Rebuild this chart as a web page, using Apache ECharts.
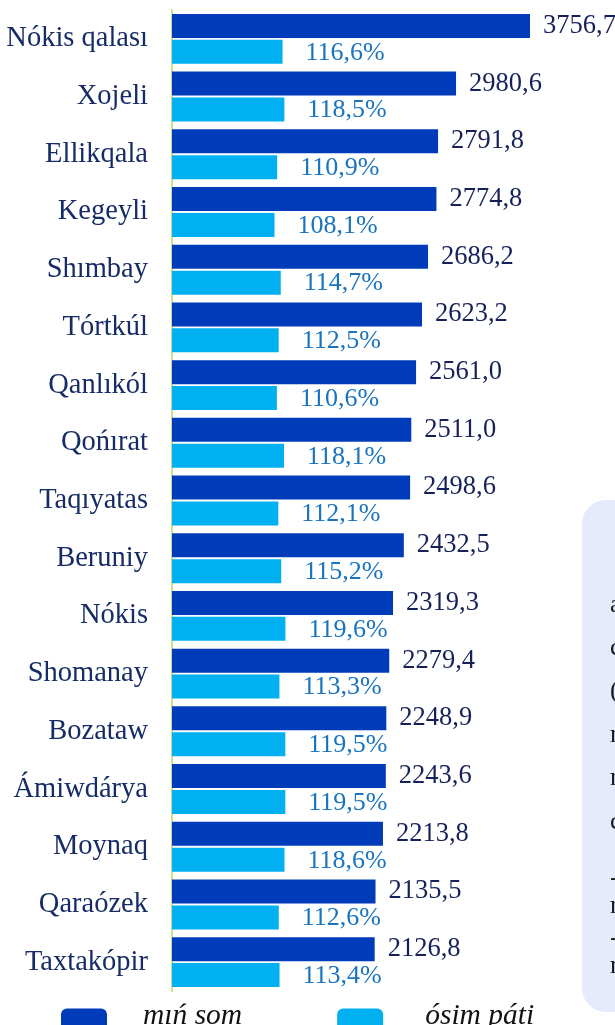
<!DOCTYPE html>
<html>
<head>
<meta charset="utf-8">
<script src="https://cdn.jsdelivr.net/npm/echarts@6/dist/echarts.min.js"></script>
<style>
  html, body { margin: 0; padding: 0; background: #ffffff; }
  #chart { width: 615px; height: 1025px; }
</style>
</head>
<body>
<div id="chart"></div>
<script>
// Districts, top to bottom
const districts = [
  'Nókis qalası', 'Xojeli', 'Ellikqala', 'Kegeyli', 'Shımbay', 'Tórtkúl',
  'Qanlıkól', 'Qońırat', 'Taqıyatas', 'Beruniy', 'Nókis', 'Shomanay',
  'Bozataw', 'Ámiwdárya', 'Moynaq', 'Qaraózek', 'Taxtakópir'
];
// Volume, mıń som
const volume = [
  3756.7, 2980.6, 2791.8, 2774.8, 2686.2, 2623.2, 2561.0, 2511.0, 2498.6,
  2432.5, 2319.3, 2279.4, 2248.9, 2243.6, 2213.8, 2135.5, 2126.8
];
// Growth rate, %
const growth = [
  116.6, 118.5, 110.9, 108.1, 114.7, 112.5, 110.6, 118.1, 112.1,
  115.2, 119.6, 113.3, 119.5, 119.5, 118.6, 112.6, 113.4
];
// Side panel text lines (continues past the right edge)
const sideLines = ['a', 'c', '(', 'r', 'r', 'c', '-', 'r', '-', 'r'];

const serif = '"Liberation Serif", "Times New Roman", "DejaVu Serif", serif';
const fmt = v => v.toFixed(1).replace('.', ',');

const chart = echarts.init(document.getElementById('chart'), null, { renderer: 'canvas' });

const sideText = sideLines.map((t, i) => ({
  type: 'text',
  x: 610,
  y: [605, 648, 691, 735, 778, 822, 878, 906, 938, 966][i],
  style: { text: t, font: '26px ' + serif, fill: '#1a1a1a', textVerticalAlign: 'middle' },
  z: 1
}));

chart.setOption({
  animation: false,
  backgroundColor: '#ffffff',
  grid: { left: 172, top: 10, width: 381.2, height: 981, containLabel: false },
  xAxis: [
    { type: 'value', min: 0, max: 4000, show: false },
    { type: 'value', min: 0, max: 402, show: false }
  ],
  yAxis: {
    type: 'category',
    inverse: true,
    data: districts,
    axisLine: { show: true, lineStyle: { color: '#c8e28e', width: 2 } },
    axisTick: { show: false },
    splitLine: { show: false },
    axisLabel: {
      margin: 24,
      fontFamily: serif,
      fontSize: 28.5,
      color: '#162c66'
    }
  },
  legend: {
    left: 56,
    top: 996,
    icon: 'roundRect',
    itemWidth: 46,
    itemHeight: 24,
    itemGap: 95,
    selectedMode: false,
    formatter: n => '{t|' + n + '}',
    textStyle: {
      color: '#111111',
      width: 100,
      padding: [0, 0, 0, 31],
      rich: {
        t: {
          fontFamily: serif,
          fontStyle: 'italic',
          fontSize: 29.5,
          color: '#111111',
          padding: [0, 0, 9, 0]
        }
      }
    },
    data: [
      { name: 'mıń som' },
      { name: 'ósim páti', textStyle: { padding: [0, 0, 0, 37] } }
    ]
  },
  graphic: [
    {
      type: 'rect',
      shape: { x: 582, y: 500, width: 80, height: 512, r: 24 },
      style: { fill: '#e5ebfc' },
      z: 0
    }
  ].concat(sideText),
  series: [
    {
      name: 'mıń som',
      type: 'bar',
      xAxisIndex: 0,
      data: volume,
      barWidth: 24,
      barGap: '8%',
      itemStyle: { color: '#003cba' },
      label: {
        show: true,
        position: 'right',
        distance: 13,
        fontFamily: serif,
        fontSize: 26.5,
        color: '#172159',
        formatter: p => fmt(p.value)
      }
    },
    {
      name: 'ósim páti',
      type: 'bar',
      xAxisIndex: 1,
      data: growth,
      barWidth: 24,
      barGap: '8%',
      itemStyle: { color: '#00b0f0' },
      label: {
        show: true,
        position: 'right',
        distance: 23,
        offset: [0, 1],
        fontFamily: serif,
        fontSize: 26,
        color: '#1a74bd',
        formatter: p => fmt(p.value) + '%'
      }
    }
  ]
});
</script>
</body>
</html>
